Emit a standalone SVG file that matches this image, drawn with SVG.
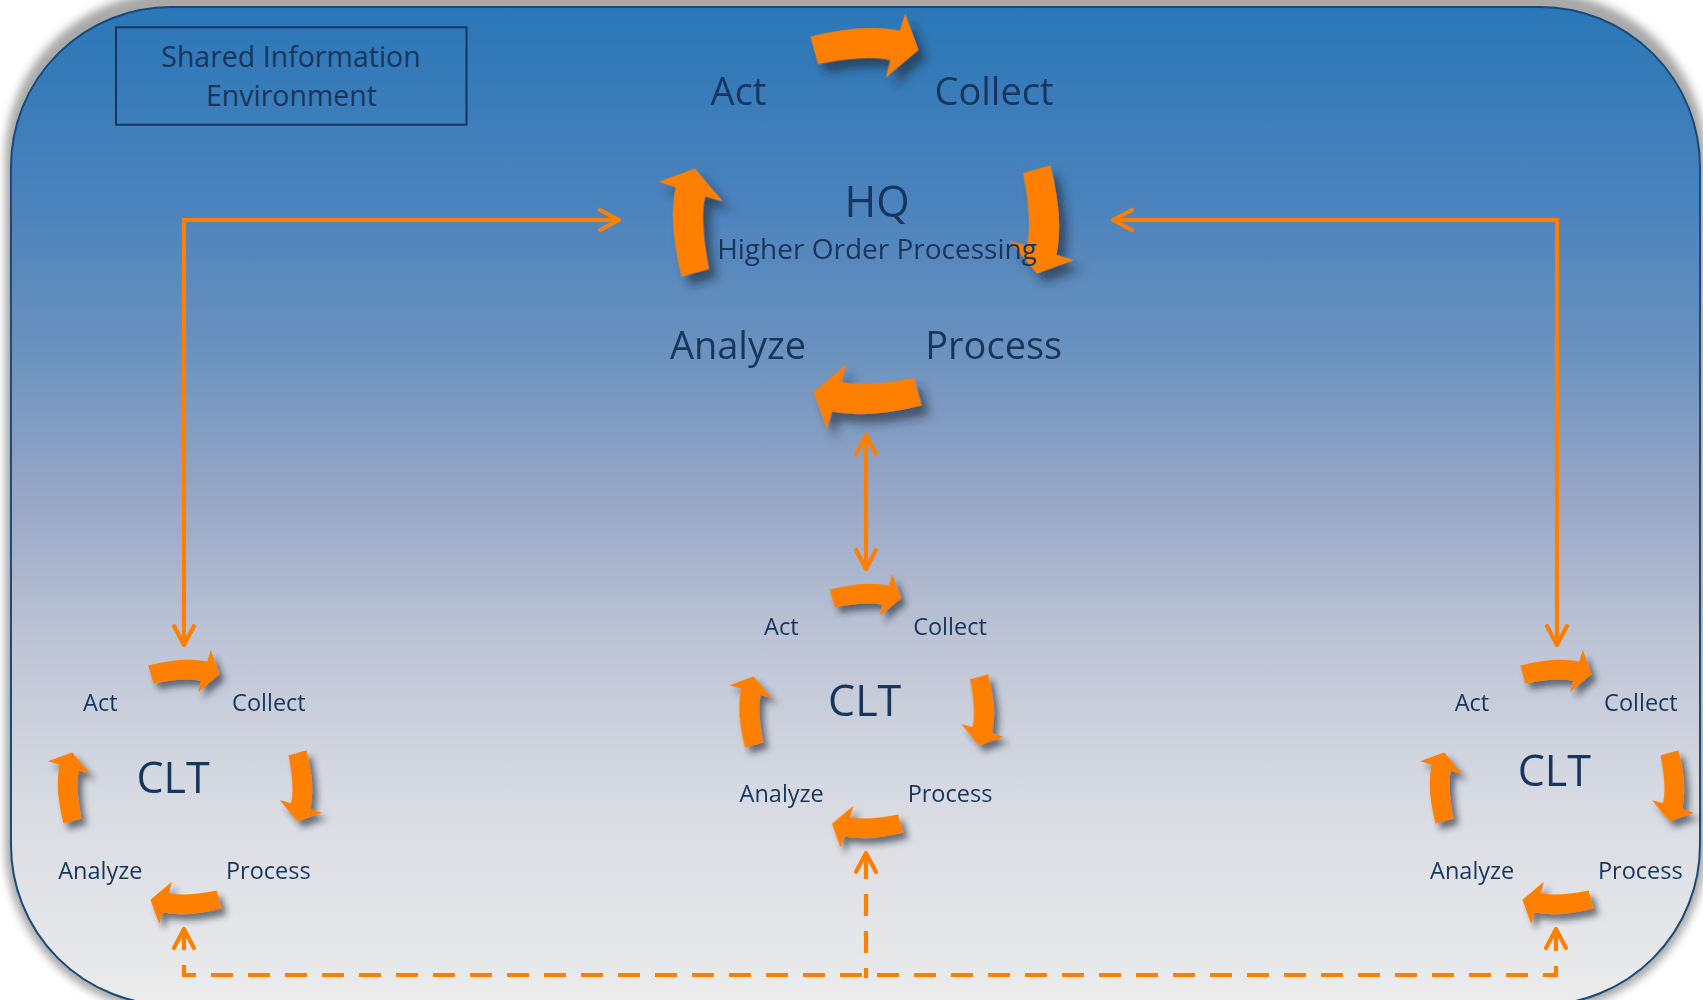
<svg xmlns="http://www.w3.org/2000/svg" xmlns:xlink="http://www.w3.org/1999/xlink" width="1703" height="1000" viewBox="0 0 1703 1000">
<defs>
  <style>
    .t { font-family: "Open Sans", "Liberation Sans", sans-serif; fill: #17365D; text-anchor: middle; }
    .sm { font-size: 23.5px; }
    .md { font-size: 38px; }
    .lg { font-size: 43px; }
    .sub { font-size: 28px; }
    .box { font-size: 28.5px; }
    .arrow { fill: #FF8000; }
    .conn { fill: none; stroke: #FF8000; stroke-width: 4.2; }
    .dash { stroke-dasharray: 22 15; }
  </style>
  <linearGradient id="bg" gradientUnits="userSpaceOnUse" x1="0" y1="7" x2="0" y2="1005">
    <stop offset="0" stop-color="#2A77B7"/>
    <stop offset="0.19" stop-color="#4A82BC"/>
    <stop offset="0.34" stop-color="#6A91BE"/>
    <stop offset="0.49" stop-color="#97A6C6"/>
    <stop offset="0.64" stop-color="#BEC5D5"/>
    <stop offset="0.79" stop-color="#D7DAE2"/>
    <stop offset="1" stop-color="#ECECEC"/>
  </linearGradient>
  <filter id="outerShadow" x="-5%" y="-5%" width="110%" height="110%">
    <feGaussianBlur stdDeviation="4"/>
  </filter>
  <filter id="arrowShadow" x="-30%" y="-30%" width="170%" height="170%">
    <feDropShadow dx="5" dy="6" stdDeviation="3" flood-color="#1E2733" flood-opacity="0.6"/>
  </filter>
  <path id="carrow" d="M-36.7,-121.5 Q-1.2,-130.6 22.3,-125.4 L25.8,-136.9 L34.6,-112.7 L13.1,-94.7 L16.1,-106.1 Q-0.25,-109.8 -31.6,-103.5 Z"/>
  <g id="cycle" class="arrow" filter="url(#arrowShadow)">
    <use xlink:href="#carrow"/>
    <use xlink:href="#carrow" transform="rotate(90)"/>
    <use xlink:href="#carrow" transform="rotate(180)"/>
    <use xlink:href="#carrow" transform="rotate(270)"/>
  </g>
  <marker id="ah" viewBox="-26 -15 30 30" markerWidth="30" markerHeight="30" refX="0" refY="0" orient="auto-start-reverse" markerUnits="userSpaceOnUse">
    <path d="M-20,-10 L-1,0 L-20,10" fill="none" stroke="#FF8000" stroke-width="4.2" stroke-linecap="round" stroke-linejoin="round" stroke-dasharray="none"/>
  </marker>
</defs>

<rect x="0" y="0" width="1703" height="1000" fill="#FFFFFF"/>

<g id="environment">
  <rect x="5" y="-8" width="1701" height="1020" rx="166" ry="166" fill="#A8A8A8" filter="url(#outerShadow)"/>
  <rect x="11" y="7" width="1689" height="998" rx="160" ry="160" fill="url(#bg)" stroke="#1A4A78" stroke-width="2"/>
</g>

<g id="shared-information-box">
  <rect x="116" y="27.3" width="350.5" height="97.4" fill="none" stroke="#17365D" stroke-width="2"/>
  <text class="t box" x="291" y="66.7">Shared Information</text>
  <text class="t box" x="291.5" y="106">Environment</text>
</g>

<g id="connectors">
  <path class="conn" d="M620,220 H184 V646" marker-start="url(#ah)" marker-end="url(#ah)"/>
  <path class="conn" d="M1112,220 H1557 V646" marker-start="url(#ah)" marker-end="url(#ah)"/>
  <path class="conn" d="M866,434 V570" marker-start="url(#ah)" marker-end="url(#ah)"/>
  <path class="conn dash" d="M184,928 V975 H1556 V928" marker-start="url(#ah)" marker-end="url(#ah)"/>
  <path class="conn dash" d="M866,978 V852" stroke-dashoffset="12" marker-end="url(#ah)"/>
</g>

<g id="hq">
  <use xlink:href="#cycle" transform="translate(866,221) scale(1.517)"/>
  <text class="t md" x="738.5" y="105">Act</text>
  <text class="t md" x="994" y="105">Collect</text>
  <text class="t lg" x="877" y="216.7">HQ</text>
  <text class="t sub" x="877" y="259.3">Higher Order Processing</text>
  <text class="t md" x="738" y="359.3">Analyze</text>
  <text class="t md" x="993.7" y="359.3">Process</text>
</g>

<g id="clt-left">
  <use xlink:href="#cycle" transform="translate(185,787)"/>
  <text class="t sm" x="100.3" y="710.7">Act</text>
  <text class="t sm" x="268.9" y="710.7">Collect</text>
  <text class="t lg" x="173" y="792.7">CLT</text>
  <text class="t sm" x="100.3" y="878.7">Analyze</text>
  <text class="t sm" x="268.3" y="878.7">Process</text>
</g>

<g id="clt-center">
  <use xlink:href="#cycle" transform="translate(866.5,711)"/>
  <text class="t sm" x="781.3" y="635">Act</text>
  <text class="t sm" x="950" y="635">Collect</text>
  <text class="t lg" x="864.7" y="716">CLT</text>
  <text class="t sm" x="781.7" y="802.3">Analyze</text>
  <text class="t sm" x="950" y="802.3">Process</text>
</g>

<g id="clt-right">
  <use xlink:href="#cycle" transform="translate(1557,787)"/>
  <text class="t sm" x="1472" y="710.7">Act</text>
  <text class="t sm" x="1640.9" y="710.7">Collect</text>
  <text class="t lg" x="1554.3" y="785.7">CLT</text>
  <text class="t sm" x="1472.2" y="878.7">Analyze</text>
  <text class="t sm" x="1640.3" y="878.7">Process</text>
</g>
</svg>
